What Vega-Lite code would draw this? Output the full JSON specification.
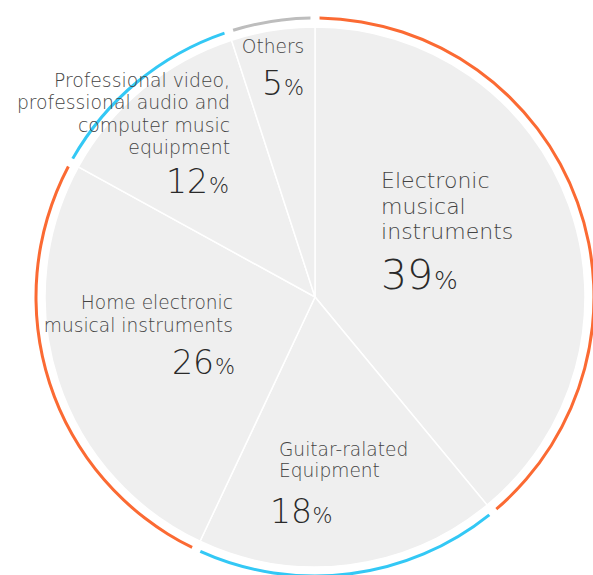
{
  "$schema": "https://vega.github.io/schema/vega-lite/v6.json",
  "width": 556,
  "height": 556,
  "autosize": {"type": "none"},
  "padding": {"left": 37, "top": 19, "right": 0, "bottom": 0},
  "background": "white",
  "config": {"view": {"stroke": null}, "text": {"font": "DejaVu Sans", "fontWeight": 200}},
  "data": {
    "values": [
      {"idx": 1, "category": "Electronic musical instruments", "label": "Electronic\nmusical\ninstruments", "value": 39},
      {"idx": 2, "category": "Guitar-ralated Equipment", "label": "Guitar-ralated\nEquipment", "value": 18},
      {"idx": 3, "category": "Home electronic musical instruments", "label": "Home electronic\nmusical instruments", "value": 26},
      {"idx": 4, "category": "Professional video, professional audio and computer music equipment", "label": "Professional video,\nprofessional audio and\ncomputer music\nequipment", "value": 12},
      {"idx": 5, "category": "Others", "label": "Others", "value": 5}
    ]
  },
  "encoding": {
    "theta": {"field": "value", "type": "quantitative", "stack": true},
    "order": {"field": "idx", "type": "quantitative"},
    "detail": {"field": "category", "type": "nominal"}
  },
  "layer": [
    {
      "mark": {"type": "arc", "radius": 280.5, "radius2": 277.5, "padAngle": 0.023},
      "encoding": {
        "color": {
          "field": "category", "type": "nominal", "legend": null,
          "scale": {
            "domain": ["Electronic musical instruments", "Guitar-ralated Equipment", "Home electronic musical instruments", "Professional video, professional audio and computer music equipment", "Others"],
            "range": ["#fb6a33", "#33c8f5", "#fb6a33", "#33c8f5", "#bdbdbd"]
          }
        }
      }
    },
    {
      "mark": {"type": "arc", "radius": 270, "fill": "#efefef", "stroke": "white", "strokeWidth": 1.5}
    },
    {
      "mark": {"type": "text", "radius": 100, "align": "left", "baseline": "alphabetic", "dx": -28, "dy": -75, "fontSize": 22, "lineHeight": 25.5, "lineBreak": "\n", "fill": "#444444"},
      "encoding": {"text": {"condition": {"test": "datum.idx === 1", "field": "label"}, "value": ""}}
    },
    {
      "mark": {"type": "text", "radius": 100, "align": "right", "baseline": "alphabetic", "dx": 24, "dy": 26, "fontSize": 41, "fill": "#2a2a2a"},
      "encoding": {"text": {"condition": {"test": "datum.idx === 1", "field": "value", "type": "quantitative"}, "value": ""}}
    },
    {
      "mark": {"type": "text", "radius": 100, "align": "left", "baseline": "alphabetic", "dx": 25, "dy": 26, "fontSize": 25, "fill": "#2a2a2a"},
      "encoding": {"text": {"condition": {"test": "datum.idx === 1", "value": "%"}, "value": ""}}
    },
    {
      "mark": {"type": "text", "radius": 180, "align": "left", "baseline": "alphabetic", "dx": -58.6, "dy": -19.6, "fontSize": 18.6, "lineHeight": 21, "lineBreak": "\n", "fill": "#444444"},
      "encoding": {"text": {"condition": {"test": "datum.idx === 2", "field": "label"}, "value": ""}}
    },
    {
      "mark": {"type": "text", "radius": 180, "align": "right", "baseline": "alphabetic", "dx": -25.6, "dy": 47.4, "fontSize": 33, "fill": "#2a2a2a"},
      "encoding": {"text": {"condition": {"test": "datum.idx === 2", "field": "value", "type": "quantitative"}, "value": ""}}
    },
    {
      "mark": {"type": "text", "radius": 180, "align": "left", "baseline": "alphabetic", "dx": -25, "dy": 47.4, "fontSize": 21, "fill": "#2a2a2a"},
      "encoding": {"text": {"condition": {"test": "datum.idx === 2", "value": "%"}, "value": ""}}
    },
    {
      "mark": {"type": "text", "radius": 110, "align": "right", "baseline": "alphabetic", "dx": 22.6, "dy": -22, "fontSize": 18.6, "lineHeight": 23, "lineBreak": "\n", "fill": "#444444"},
      "encoding": {"text": {"condition": {"test": "datum.idx === 3", "field": "label"}, "value": ""}}
    },
    {
      "mark": {"type": "text", "radius": 110, "align": "right", "baseline": "alphabetic", "dx": 3.6, "dy": 43, "fontSize": 33, "fill": "#2a2a2a"},
      "encoding": {"text": {"condition": {"test": "datum.idx === 3", "field": "value", "type": "quantitative"}, "value": ""}}
    },
    {
      "mark": {"type": "text", "radius": 110, "align": "left", "baseline": "alphabetic", "dx": 4.6, "dy": 43, "fontSize": 21, "fill": "#2a2a2a"},
      "encoding": {"text": {"condition": {"test": "datum.idx === 3", "value": "%"}, "value": ""}}
    },
    {
      "mark": {"type": "text", "radius": 200, "align": "right", "baseline": "alphabetic", "dx": 42.5, "dy": -56, "fontSize": 18.8, "lineHeight": 22.5, "lineBreak": "\n", "fill": "#444444"},
      "encoding": {"text": {"condition": {"test": "datum.idx === 4", "field": "label"}, "value": ""}}
    },
    {
      "mark": {"type": "text", "radius": 200, "align": "right", "baseline": "alphabetic", "dx": 20.5, "dy": 50, "fontSize": 33, "fill": "#2a2a2a"},
      "encoding": {"text": {"condition": {"test": "datum.idx === 4", "field": "value", "type": "quantitative"}, "value": ""}}
    },
    {
      "mark": {"type": "text", "radius": 200, "align": "left", "baseline": "alphabetic", "dx": 21.5, "dy": 50, "fontSize": 21, "fill": "#2a2a2a"},
      "encoding": {"text": {"condition": {"test": "datum.idx === 4", "value": "%"}, "value": ""}}
    },
    {
      "mark": {"type": "text", "radius": 230, "align": "center", "baseline": "alphabetic", "dx": -6, "dy": -17, "fontSize": 18.6, "fill": "#444444"},
      "encoding": {"text": {"condition": {"test": "datum.idx === 5", "field": "label"}, "value": ""}}
    },
    {
      "mark": {"type": "text", "radius": 230, "align": "right", "baseline": "alphabetic", "dx": 4, "dy": 25, "fontSize": 33, "fill": "#2a2a2a"},
      "encoding": {"text": {"condition": {"test": "datum.idx === 5", "field": "value", "type": "quantitative"}, "value": ""}}
    },
    {
      "mark": {"type": "text", "radius": 230, "align": "left", "baseline": "alphabetic", "dx": 5, "dy": 25, "fontSize": 21, "fill": "#2a2a2a"},
      "encoding": {"text": {"condition": {"test": "datum.idx === 5", "value": "%"}, "value": ""}}
    }
  ]
}
